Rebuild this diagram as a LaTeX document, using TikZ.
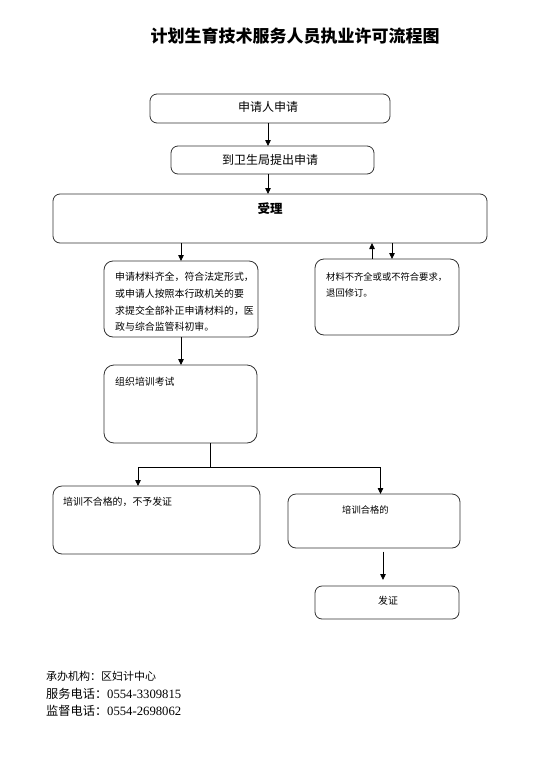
\documentclass[tikz,border=0pt]{standalone}
\usepackage{fontspec}
\setmainfont{Liberation Serif}
\newfontfamily\cjk{Noto Sans CJK SC}
\usetikzlibrary{arrows.meta}
\begin{document}
\begin{tikzpicture}[x=1pt,y=-1pt,
  box/.style={draw=black!80, line width=0.8pt, rounded corners=7pt, anchor=north west, inner sep=0pt, outer sep=0pt},
  bigtxt/.style={font=\cjk\fontsize{12}{14}\selectfont, inner sep=0pt},
  smalltxt/.style={font=\cjk\fontsize{9.9}{16.7}\selectfont, inner sep=0pt, anchor=north west, align=left},
  arr/.style={draw=black, line width=0.8pt, -{Triangle[length=6pt,width=5.5pt]}},
  ln/.style={draw=black, line width=0.8pt}
]
\useasboundingbox (0,0) rectangle (541,761);

% title
\node[font=\cjk\bfseries\fontsize{17}{20}\selectfont, inner sep=0pt] (title) at (295,36) {计划生育技术服务人员执业许可流程图};

% boxes
\node[box, minimum width=240pt, minimum height=29pt] (b1) at (150,94) {};
\node[bigtxt] (t1) at (268,107) {申请人申请};
\node[box, minimum width=203pt, minimum height=28pt] (b2) at (171,146) {};
\node[bigtxt] (t2) at (270,160) {到卫生局提出申请};
\node[box, minimum width=434pt, minimum height=49pt] (b3) at (53,194) {};
\node[bigtxt, font=\cjk\bfseries\fontsize{12.5}{14}\selectfont] (t3) at (270,209) {受理};

\node[box, minimum width=154pt, minimum height=76pt, rounded corners=9pt] (b4) at (104,261) {};
\node[smalltxt] (t4) at (115,272) {申请材料齐全，符合法定形式，\\或申请人按照本行政机关的要\\求提交全部补正申请材料的，医\\政与综合监管科初审。};

\node[box, minimum width=144pt, minimum height=76pt, rounded corners=9pt] (b5) at (315,259) {};
\node[smalltxt, font=\cjk\fontsize{9.3}{16.7}\selectfont] (t5) at (326,272) {材料不齐全或或不符合要求，\\退回修订。};

\node[box, minimum width=153pt, minimum height=78pt, rounded corners=10pt] (b6) at (104,365) {};
\node[smalltxt] (t6) at (115,377) {组织培训考试};

\node[box, minimum width=207pt, minimum height=68pt, rounded corners=9pt] (b7) at (53,486) {};
\node[smalltxt] (t7) at (63,497) {培训不合格的，不予发证};

\node[box, minimum width=172pt, minimum height=54pt, rounded corners=8pt] (b8) at (288,494) {};
\node[smalltxt, font=\cjk\fontsize{9.3}{16.7}\selectfont] (t8) at (342,505) {培训合格的};

\node[box, minimum width=144pt, minimum height=33pt, rounded corners=7pt] (b9) at (315,586) {};
\node[smalltxt, anchor=center] (t9) at (388,601) {发证};

% helper x-coordinates
\coordinate (xa) at (268,0);
\coordinate (xc) at (181,0);
\coordinate (xd) at (372,0);
\coordinate (xe) at (392,0);
\coordinate (xg) at (210.5,0);
\coordinate (xl) at (138,0);
\coordinate (xr) at (380.5,0);
\coordinate (xh) at (383,0);
\coordinate (yj) at (0,467);

% connectors
\draw[arr] (b1.south -| xa) -- (b2.north -| xa);
\draw[arr] (b2.south -| xa) -- (b3.north -| xa);
\draw[arr] (b3.south -| xc) -- (b4.north -| xc);
\draw[arr] (b5.north -| xd) -- (b3.south -| xd);
\draw[arr] (b3.south -| xe) -- (b5.north -| xe);
\draw[arr] (b4.south -| xc) -- (b6.north -| xc);
\draw[ln] (b6.south -| xg) -- (yj -| xg);
\draw[arr] (yj -| xg) -- (yj -| xl) -- (b7.north -| xl);
\draw[arr] (yj -| xg) -- (yj -| xr) -- (b8.north -| xr);
\draw[arr, shorten <=3.5pt, shorten >=6pt] (b8.south -| xh) -- (b9.north -| xh);

% footer
\node[font=\cjk\fontsize{11}{12}\selectfont, inner sep=0pt, anchor=west] (f1) at (46,676) {承办机构：区妇计中心};
\node[font=\fontsize{12.7}{14}\selectfont, inner sep=0pt, anchor=west] (f2) at (46,693.5) {{\cjk\fontsize{12.2}{14}\selectfont 服务电话：}0554-3309815};
\node[font=\fontsize{12.7}{14}\selectfont, inner sep=0pt, anchor=west] (f3) at (46,711) {{\cjk\fontsize{12.2}{14}\selectfont 监督电话：}0554-2698062};
\end{tikzpicture}
\end{document}
